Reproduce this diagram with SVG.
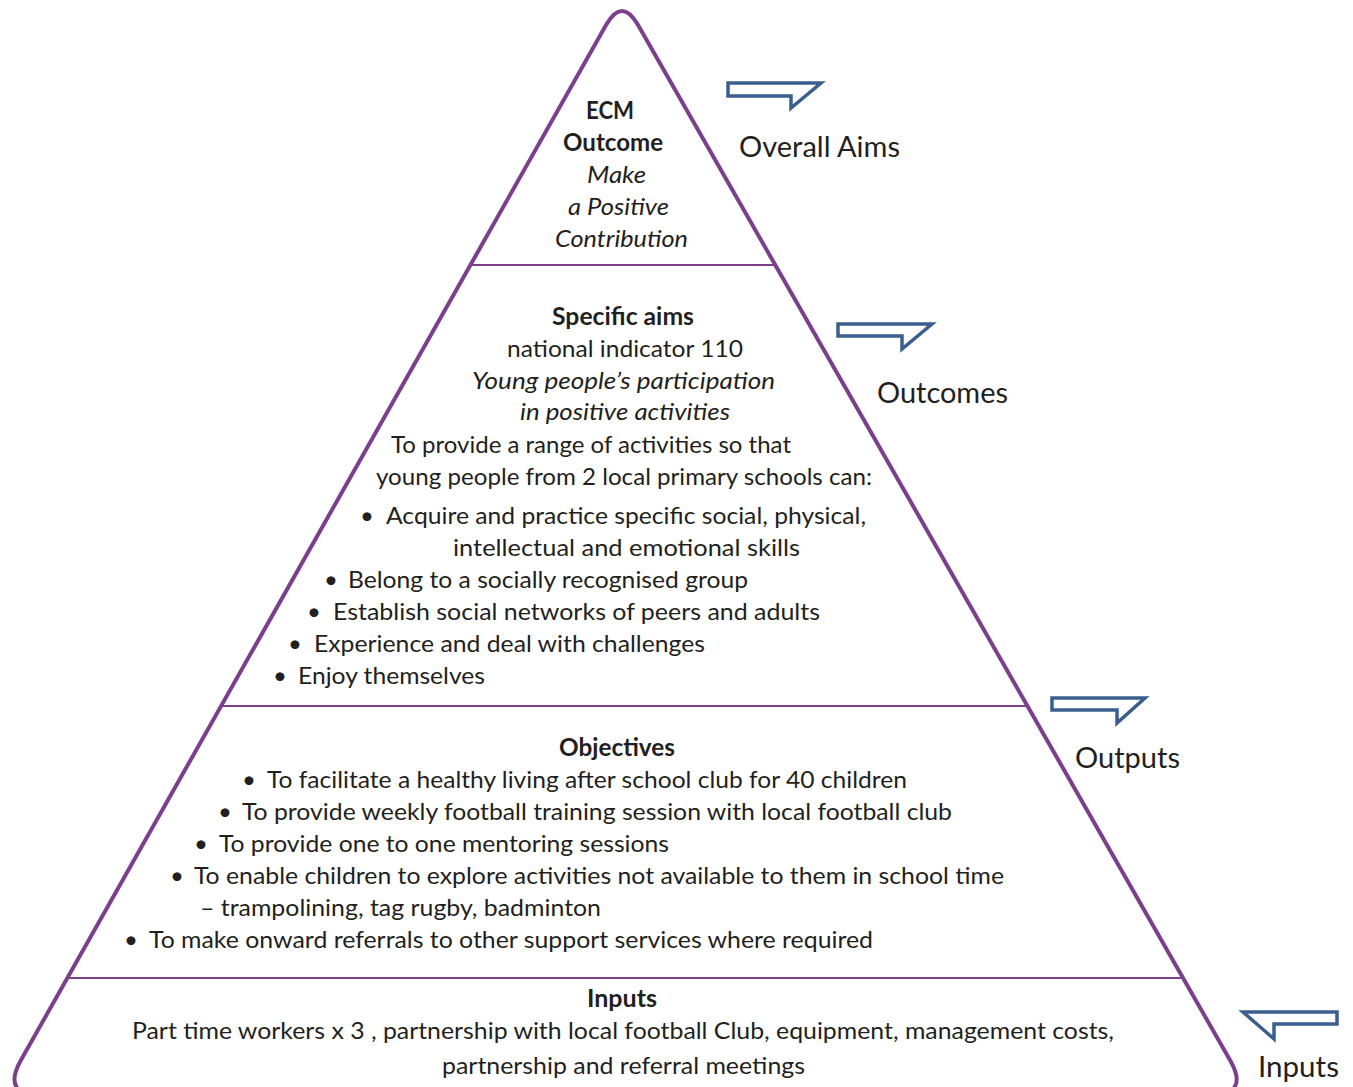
<svg xmlns="http://www.w3.org/2000/svg" width="1353" height="1087" viewBox="0 0 1353 1087">
  <style>
    .t { font-family: Lato, "Open Sans", "Liberation Sans", sans-serif; font-size: 24px; fill: #231f20; }
    .b { font-weight: bold; }
    .i { font-style: italic; }
    .side { font-family: Lato, "Open Sans", "Liberation Sans", sans-serif; font-size: 28px; fill: #231f20; }
    .edge { fill: none; stroke: #7b3f8e; stroke-width: 4; stroke-linejoin: round; }
    .divider { stroke: #7b3f8e; stroke-width: 2; }
    .callout { fill: #ffffff; stroke: #3a5f8f; stroke-width: 3.5; stroke-linejoin: miter; }
  </style>
  <rect width="1353" height="1087" fill="#ffffff"/>

  <!-- pyramid outline and tier dividers -->
  <g id="pyramid">
    <path class="edge" d="M606.2,24.8 Q622,-3 637.9,24.8 L1230.1,1060.3 Q1250,1095 1210,1095 L41,1095 Q1.3,1095 21,1060 Z"/>
    <line class="divider" x1="470" y1="265" x2="775" y2="265"/>
    <line class="divider" x1="222" y1="706" x2="1028" y2="706"/>
    <line class="divider" x1="66" y1="978" x2="1183" y2="978"/>
  </g>

  <!-- tier 1: overall aim -->
  <g id="tier-overall-aims">
    <text class="t b" x="586" y="119" textLength="48" lengthAdjust="spacingAndGlyphs">ECM</text>
    <text class="t b" x="563" y="151" textLength="100" lengthAdjust="spacingAndGlyphs">Outcome</text>
    <text class="t i" x="587" y="183" textLength="59" lengthAdjust="spacingAndGlyphs">Make</text>
    <text class="t i" x="568" y="215" textLength="101" lengthAdjust="spacingAndGlyphs">a Positive</text>
    <text class="t i" x="555" y="247" textLength="133" lengthAdjust="spacingAndGlyphs">Contribution</text>
  </g>

  <!-- tier 2: outcomes -->
  <g id="tier-outcomes">
    <text class="t b" x="552" y="325" textLength="142" lengthAdjust="spacingAndGlyphs">Specific aims</text>
    <text class="t" x="507" y="357" textLength="236" lengthAdjust="spacingAndGlyphs">national indicator 110</text>
    <text class="t i" x="472" y="389" textLength="303" lengthAdjust="spacingAndGlyphs">Young people’s participation</text>
    <text class="t i" x="520" y="420" textLength="210" lengthAdjust="spacingAndGlyphs">in positive activities</text>
    <text class="t" x="391" y="453" textLength="400" lengthAdjust="spacingAndGlyphs">To provide a range of activities so that</text>
    <text class="t" x="376" y="485" textLength="496" lengthAdjust="spacingAndGlyphs">young people from 2 local primary schools can:</text>
    <text class="t" x="360" y="524">•</text>
    <text class="t" x="386" y="524" textLength="480" lengthAdjust="spacingAndGlyphs">Acquire and practice specific social, physical,</text>
    <text class="t" x="453" y="556" textLength="347" lengthAdjust="spacingAndGlyphs">intellectual  and emotional skills</text>
    <text class="t" x="324" y="588">•</text>
    <text class="t" x="348" y="588" textLength="400" lengthAdjust="spacingAndGlyphs">Belong to a socially recognised group</text>
    <text class="t" x="307" y="620">•</text>
    <text class="t" x="333" y="620" textLength="487" lengthAdjust="spacingAndGlyphs">Establish  social networks of peers and adults</text>
    <text class="t" x="288" y="652">•</text>
    <text class="t" x="314" y="652" textLength="391" lengthAdjust="spacingAndGlyphs">Experience and deal with challenges</text>
    <text class="t" x="273" y="684">•</text>
    <text class="t" x="298" y="684" textLength="187" lengthAdjust="spacingAndGlyphs">Enjoy themselves</text>
  </g>

  <!-- tier 3: outputs -->
  <g id="tier-outputs">
    <text class="t b" x="559" y="756" textLength="116" lengthAdjust="spacingAndGlyphs">Objectives</text>
    <text class="t" x="242" y="788">•</text>
    <text class="t" x="267" y="788" textLength="640" lengthAdjust="spacingAndGlyphs">To facilitate a healthy living after school club for 40 children</text>
    <text class="t" x="218" y="820">•</text>
    <text class="t" x="242" y="820" textLength="710" lengthAdjust="spacingAndGlyphs">To provide weekly football training session with local football club</text>
    <text class="t" x="194" y="852">•</text>
    <text class="t" x="219" y="852" textLength="450" lengthAdjust="spacingAndGlyphs">To provide one to one mentoring sessions</text>
    <text class="t" x="170" y="884">•</text>
    <text class="t" x="194" y="884" textLength="810" lengthAdjust="spacingAndGlyphs">To enable children to explore activities not available to them in school time</text>
    <text class="t" x="200" y="916" textLength="401" lengthAdjust="spacingAndGlyphs">– trampolining, tag rugby, badminton</text>
    <text class="t" x="124" y="948">•</text>
    <text class="t" x="149" y="948" textLength="724" lengthAdjust="spacingAndGlyphs">To make onward referrals to other support services where required</text>
  </g>

  <!-- tier 4: inputs -->
  <g id="tier-inputs">
    <text class="t b" x="587" y="1007" textLength="70" lengthAdjust="spacingAndGlyphs">Inputs</text>
    <text class="t" x="132" y="1039" textLength="982" lengthAdjust="spacingAndGlyphs">Part time workers x 3 , partnership with local football Club, equipment, management costs,</text>
    <text class="t" x="442" y="1074" textLength="363" lengthAdjust="spacingAndGlyphs">partnership and referral meetings</text>
  </g>

  <!-- side labels -->
  <g id="label-overall-aims">
    <text class="side" x="739" y="157" textLength="161" lengthAdjust="spacingAndGlyphs">Overall Aims</text>
  </g>
  <g id="label-outcomes">
    <text class="side" x="877" y="403" textLength="131" lengthAdjust="spacingAndGlyphs">Outcomes</text>
  </g>
  <g id="label-outputs">
    <text class="side" x="1075" y="768" textLength="105" lengthAdjust="spacingAndGlyphs">Outputs</text>
  </g>
  <g id="label-inputs">
    <text class="side" x="1258" y="1077" textLength="81" lengthAdjust="spacingAndGlyphs">Inputs</text>
  </g>

  <!-- callout pointers beside each tier -->
  <g id="connectors">
    <polygon class="callout" points="728,83 821,83 791,108 791,96 728,96"/>
    <polygon class="callout" points="838,324 932,324 902,349 902,336 838,336"/>
    <polygon class="callout" points="1052,698 1145,698 1117,723 1117,710 1052,710"/>
    <polygon class="callout" points="1243,1012 1337,1012 1337,1024 1274,1024 1274,1039"/>
  </g>
</svg>
